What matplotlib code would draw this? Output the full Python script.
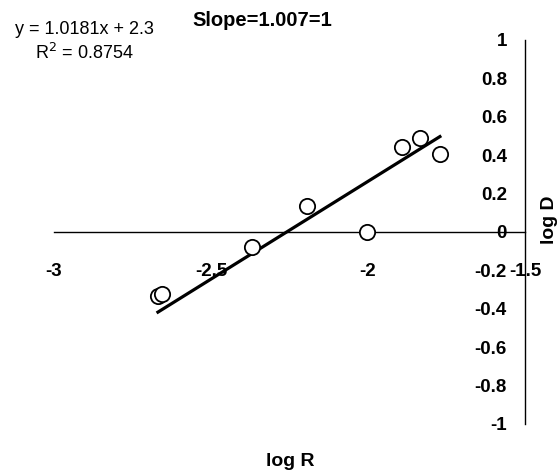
import numpy as np
import matplotlib.pyplot as plt

plt.rcParams["font.family"] = ["Liberation Sans", "DejaVu Sans"]

# ── data ───────────────────────────────────────────────────────────────────────
log_r = [-2.669, -2.656, -2.370, -2.195, -2.004, -1.893, -1.834, -1.771]
log_d = [-0.333, -0.323, -0.080, 0.135, 0.002, 0.444, 0.491, 0.406]
slope = 1.0181
intercept = 2.3
r2 = 0.8754
x_ticks = [-3, -2.5, -2, -1.5]
y_ticks = [-1, -0.8, -0.6, -0.4, -0.2, 0, 0.2, 0.4, 0.6, 0.8, 1]

fig = plt.figure(figsize=(5.58, 4.75), dpi=100)
ax = fig.add_axes([54 / 558, 1 - 424 / 475, 471 / 558, 384 / 475])

ax.set_xlim(-3, -1.5)
ax.set_ylim(-1, 1)

# trendline over the data range
xs = np.array([min(log_r), max(log_r)])
ax.plot(xs, slope * xs + intercept, color="black", linewidth=2.3, zorder=2)

ax.plot(log_r, log_d, linestyle="none", marker="o", markersize=11,
        markerfacecolor="white", markeredgecolor="black", markeredgewidth=1.3,
        zorder=3)

# Excel-style crossing axes
ax.spines["left"].set_position(("data", -1.5))
ax.spines["bottom"].set_position(("data", 0))
ax.spines["top"].set_visible(False)
ax.spines["right"].set_visible(False)
for s in ("left", "bottom"):
    ax.spines[s].set_linewidth(1.0)

ax.set_xticks(x_ticks)
ax.set_xticklabels([f"{v:g}" for v in x_ticks])
ax.set_yticks(y_ticks)
ax.set_yticklabels([f"{v:g}" for v in y_ticks])
ax.tick_params(axis="x", length=0, pad=22, labelsize=13.5)
ax.tick_params(axis="y", length=0, pad=13, labelsize=13.5)
for lab in ax.get_xticklabels() + ax.get_yticklabels():
    lab.set_fontweight("bold")
ax.patch.set_visible(False)

fig.text(262 / 558, 1 - 20 / 475, "Slope=1.007=1", ha="center", va="center",
         fontsize=14.5, fontweight="bold")
fig.text(84 / 558, 1 - 30 / 475, f"y = {slope}x + {intercept}", ha="center",
         va="center", fontsize=13)
fig.text(84 / 558, 1 - 53 / 475, f"R$^2$ = {r2}", ha="center", va="center",
         fontsize=13)
fig.text(290 / 558, 1 - 462 / 475, "log R", ha="center", va="center",
         fontsize=14, fontweight="bold")
fig.text(550 / 558, 1 - 220 / 475, "log D", ha="center", va="center",
         rotation=90, fontsize=14, fontweight="bold")

fig.savefig("out.png", dpi=100)
